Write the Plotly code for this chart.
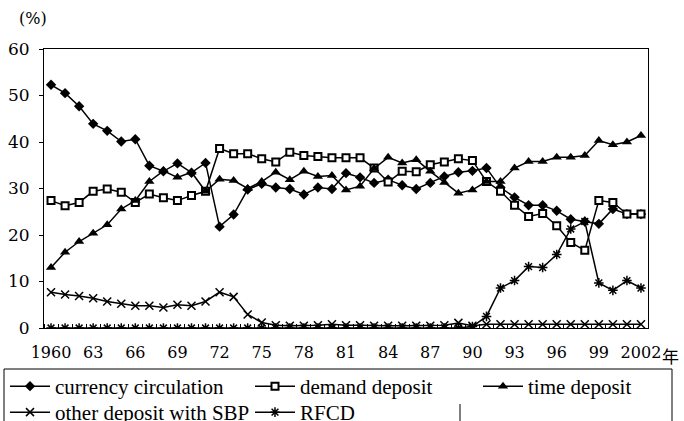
import plotly.graph_objects as go

years = list(range(1960, 2003))
tick_years = [1960, 1963, 1966, 1969, 1972, 1975, 1978, 1981, 1984, 1987, 1990, 1993, 1996, 1999, 2002]
tick_text = ["1960", "63", "66", "69", "72", "75", "78", "81", "84", "87", "90", "93", "96", "99", "2002"]

currency = [52.3, 50.5, 47.7, 43.9, 42.4, 40.1, 40.6, 34.9, 33.7, 35.4,
            33.4, 35.5, 21.8, 24.4, 29.8, 31.0, 30.2, 29.9, 28.7, 30.2,
            29.9, 33.3, 32.4, 31.2, 31.9, 30.7, 29.9, 31.2, 32.6, 33.5,
            33.8, 34.4, 30.2, 28.1, 26.4, 26.4, 25.2, 23.4, 22.9, 22.4,
            25.6, 24.5, 24.5]
demand = [27.4, 26.3, 27.0, 29.4, 29.9, 29.2, 27.0, 28.8, 28.0, 27.4,
          28.5, 29.4, 38.6, 37.5, 37.5, 36.4, 35.7, 37.8, 37.1, 36.9,
          36.6, 36.6, 36.6, 34.4, 31.4, 33.7, 33.6, 35.1, 35.7, 36.4,
          36.0, 31.5, 29.4, 26.4, 24.0, 24.6, 22.0, 18.4, 16.7, 27.4,
          27.0, 24.5, 24.5]
time_dep = [13.0, 16.3, 18.6, 20.4, 22.2, 25.6, 27.4, 31.5, 33.8, 32.4,
            33.5, 29.4, 32.0, 31.7, 30.0, 31.5, 33.5, 31.9, 33.7, 32.6,
            32.8, 29.7, 30.5, 34.3, 36.7, 35.5, 36.2, 33.7, 31.3, 29.0,
            29.7, 31.5, 31.5, 34.4, 35.8, 35.8, 36.7, 36.7, 37.1, 40.3,
            39.4, 40.0, 41.4]
other_sbp = [7.7, 7.2, 6.9, 6.4, 5.7, 5.2, 4.8, 4.8, 4.4, 5.0,
             4.8, 5.7, 7.7, 6.7, 2.9, 1.2, 0.6, 0.5, 0.5, 0.6,
             0.8, 0.6, 0.6, 0.5, 0.5, 0.5, 0.5, 0.5, 0.6, 1.1,
             0.5, 0.8, 0.8, 0.8, 0.8, 0.8, 0.8, 0.8, 0.8, 0.8,
             0.8, 0.8, 0.8]
rfcd = [0.0] * 30 + [0.3, 2.5, 8.6, 10.2, 13.2, 13.0, 15.8, 21.3, 22.9, 9.7,
                     8.1, 10.2, 8.6]

SERIF = "Liberation Serif, Times New Roman, serif"
TICKFONT = "DejaVu Serif, serif"

W, H = 684, 421
L, R, T, B = 44, 648, 49, 328
pw, ph = R - L, B - T


def px(x):
    return (x - L) / pw


def py(y):
    return (B - y) / ph


fig = go.Figure()


def add(name, y, symbol, size, legend, color="black", lw=0):
    fig.add_trace(go.Scatter(
        x=years, y=y, name=name, mode="lines+markers",
        line=dict(color="black", width=1.5),
        marker=dict(symbol=symbol, size=size, color=color,
                    line=dict(color="black", width=lw)),
        legend=legend,
    ))


add("currency circulation", currency, "diamond", 8, "legend")
add("demand deposit", demand, "square", 7, "legend2", color="white", lw=2)
add("time deposit", time_dep, "triangle-up", 9, "legend3")
add("other deposit with SBP", other_sbp, "x-thin-open", 8, "legend4", lw=1.5)
add("RFCD", rfcd, "asterisk-open", 8, "legend5", lw=1.5)


def leg(x, y):
    return dict(x=px(x), y=py(y), xanchor="left", yanchor="top",
                font=dict(family=SERIF, size=21, color="black"),
                bgcolor="rgba(0,0,0,0)", borderwidth=0,
                orientation="v", itemwidth=40)


fig.update_layout(
    width=W, height=H,
    margin=dict(l=L, r=W - R, t=T, b=H - B, autoexpand=False),
    paper_bgcolor="white", plot_bgcolor="white",
    font=dict(family=SERIF, size=18, color="black"),
    xaxis=dict(range=[1959.5, 2002.5], tickmode="array", tickvals=tick_years,
               ticktext=tick_text, ticks="", showgrid=False, zeroline=False,
               showline=True, linecolor="black", linewidth=1, mirror=True,
               ticklabelstandoff=10,
               minor=dict(ticks="inside", ticklen=4, tickcolor="black",
                          tickmode="array",
                          tickvals=[y - 0.5 for y in years] + [2002.5],
                          showgrid=False),
               tickfont=dict(family=TICKFONT, size=16)),
    yaxis=dict(range=[0, 60], dtick=10, ticks="outside", ticklen=4,
               tickcolor="black", showgrid=False, zeroline=False,
               showline=True, linecolor="black", linewidth=1, mirror=True,
               ticklabelstandoff=6,
               tickfont=dict(family=TICKFONT, size=17)),
    legend=leg(5, 366),
    legend2=leg(250, 366),
    legend3=leg(478, 366),
    legend4=leg(5, 392),
    legend5=leg(250, 392),
    showlegend=True,
)

fig.add_annotation(text="(%)", xref="paper", yref="paper", x=px(17), y=py(7),
                   xanchor="left", yanchor="top", showarrow=False,
                   font=dict(family=TICKFONT, size=16))
fig.add_annotation(text="年", xref="x", x=2002, yref="paper", y=py(355),
                   xanchor="left", yanchor="middle", xshift=19, showarrow=False,
                   font=dict(family="Noto Sans CJK JP", size=17))

fig.add_shape(type="rect", xref="paper", yref="paper",
              x0=px(4), x1=px(672), y0=py(369), y1=py(440),
              line=dict(color="black", width=1), fillcolor="rgba(0,0,0,0)")
fig.add_shape(type="line", xref="paper", yref="paper",
              x0=px(460), x1=px(460), y0=py(404), y1=py(440),
              line=dict(color="black", width=1))

fig.write_html("out.html", config={"displayModeBar": False},
               post_script="document.body.style.margin='0';")
